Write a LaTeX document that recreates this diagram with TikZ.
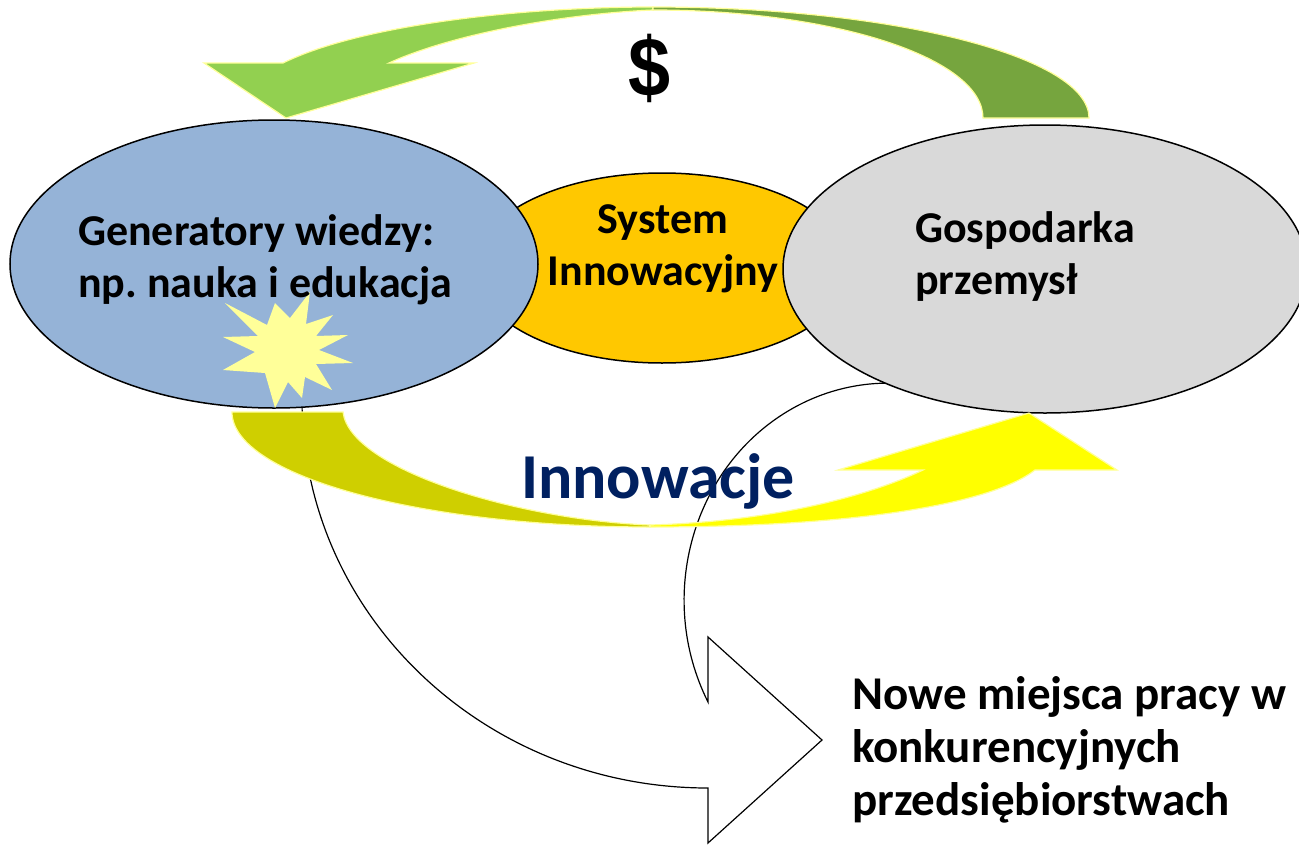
\documentclass[tikz,border=0pt]{standalone}
\usepackage{fontspec}
\setmainfont{Carlito}
\newfontfamily\dollarfont{Liberation Sans}
\usetikzlibrary{shapes.geometric,positioning}
\frenchspacing
\definecolor{knowblue}{HTML}{95B3D7}
\definecolor{sysgold}{HTML}{FFC800}
\definecolor{econgray}{HTML}{D9D9D9}
\definecolor{cashlight}{HTML}{92D050}
\definecolor{cashdark}{HTML}{76A53E}
\definecolor{innoolive}{HTML}{CFCF00}
\definecolor{innoyellow}{HTML}{FFFF00}
\definecolor{sparkyellow}{HTML}{FFFF99}
\definecolor{innonavy}{HTML}{002060}
\tikzset{
  el/.style={ellipse, draw=black, line width=1.5pt, inner sep=0pt},
  lbl/.style={font=\fontsize{44}{52}\selectfont\bfseries, align=left, inner sep=0pt},
  band/.style={draw=sparkyellow, line width=1.2pt}
}

\begin{document}
\begin{tikzpicture}[x=1pt,y=-1pt]
	\useasboundingbox (0,0) rectangle (1299,846);
	% open arrow to the jobs
	\draw[line width=1.2pt] (302,400) arc[start angle=180, end angle=90, x radius=406, y radius=388]
		-- (708,843) -- (822,740) -- (708,637) -- (708,702)
		arc[start angle=152, end angle=278, x radius=204, y radius=217];
	%
	\node[el, fill=sysgold, minimum width=376pt, minimum height=190pt] (sysE) at (662,268) {};
	\node[el, fill=knowblue, minimum width=528pt, minimum height=288pt] (know) at (274,264) {};
	\node[el, fill=econgray, minimum width=524pt, minimum height=288pt] (econ) at (1045,269) {};
	%
	\draw[band, fill=cashlight] (653,7) .. controls (520,7) and (360,25) .. (283,63)
		-- (204,63) -- (286,118) -- (474,63) -- (389,63)
		.. controls (450,35) and (560,14) .. (653,10) -- cycle;
	\draw[band, fill=cashdark] (653,7) arc[start angle=270, end angle=360, x radius=436, y radius=111]
		-- (983,118) arc[start angle=0, end angle=-90, x radius=330, y radius=108] -- cycle;
	%
	\fill[sparkyellow] (225,303) -- (267,325) -- (275,303) -- (290,318) -- (310,292) -- (306,324)
		-- (333,315) -- (316,336) -- (348,335) -- (319,350) -- (353,363) -- (316,364)
		-- (332,390) -- (305,377) -- (302,398) -- (288,382) -- (275,408) -- (265,373)
		-- (223,370) -- (255,352) -- (223,337) -- (258,336) -- cycle;
	%
	\draw[band, fill=innoolive] (232,412) arc[start angle=180, end angle=90, x radius=418, y radius=115]
		-- (650,525) .. controls (520,520) and (350,470) .. (343,412) -- cycle;
	\draw[band, fill=innoyellow] (650,527) .. controls (850,527) and (990,505) .. (1035,470)
		-- (1117,470) -- (1029,413) -- (838,470) -- (923,470)
		.. controls (860,500) and (760,522) .. (650,525) -- cycle;
	%
	\node[font=\dollarfont\bfseries\fontsize{84}{84}\selectfont, inner sep=0pt, xscale=0.9] (cash) at (650,68) {\$};
	\node[lbl, anchor=base west] (knowtxt) at (78,297) {Generatory wiedzy:\\np. nauka i edukacja};
	\node[lbl, align=center, anchor=base] (systxt) at (663,285) {System\\Innowacyjny};
	\node[lbl, anchor=base west] (econtxt) at (915,294) {Gospodarka\\przemysł};
	\node[font=\fontsize{64}{64}\selectfont\bfseries, text=innonavy, inner sep=0pt, anchor=base] (inno) at (658,498) {Innowacje};
	\node[lbl, font=\fontsize{47}{53}\selectfont\bfseries, anchor=base west] (jobs) at (852,815) {Nowe miejsca pracy w\\konkurencyjnych\\przedsiębiorstwach};
\end{tikzpicture}
\end{document}
